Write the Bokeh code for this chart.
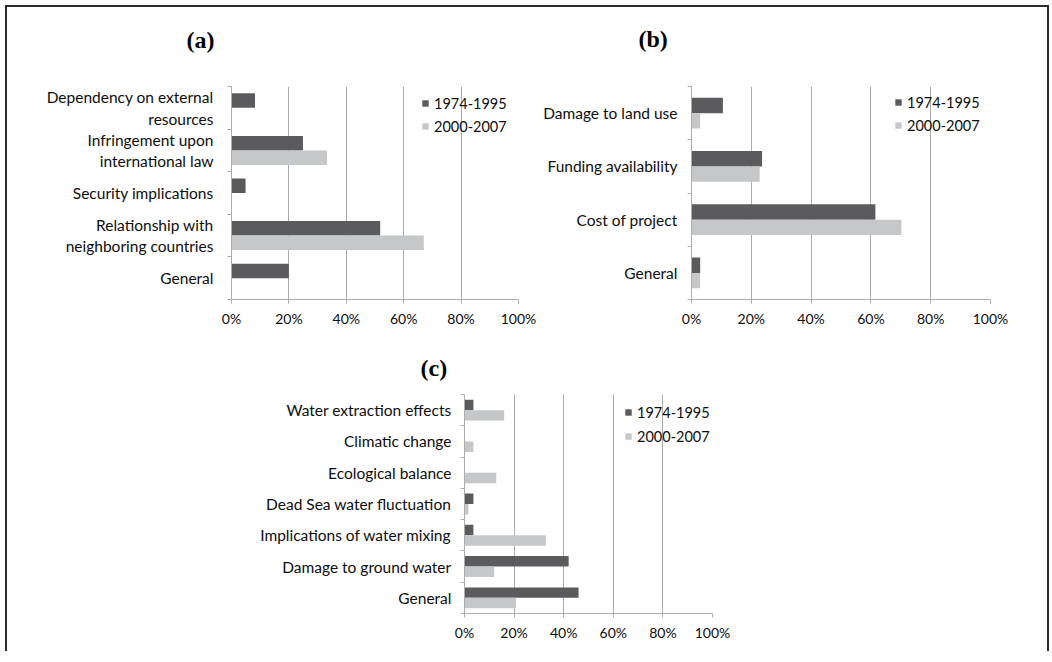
from bokeh.plotting import figure
from bokeh.models import (Range1d, FixedTicker, PrintfTickFormatter, Legend, LegendItem,
                          Spacer, ColumnDataSource, Title)
from bokeh.layouts import column, row
from bokeh.embed import file_html
from bokeh.resources import INLINE

# ---------------- data ----------------
series = ["1974-1995", "2000-2007"]

a_categories = ["Dependency on external\nresources", "Infringement upon\ninternational law",
                "Security implications", "Relationship with\nneighboring countries", "General"]
a_1974_1995 = [8.2, 24.9, 4.9, 51.8, 20.0]
a_2000_2007 = [0.0, 33.3, 0.0, 67.0, 0.0]

b_categories = ["Damage to land use", "Funding availability", "Cost of project", "General"]
b_1974_1995 = [10.5, 23.6, 61.5, 2.9]
b_2000_2007 = [2.9, 22.8, 70.2, 2.9]

c_categories = ["Water extraction effects", "Climatic change", "Ecological balance",
                "Dead Sea water fluctuation", "Implications of water mixing",
                "Damage to ground water", "General"]
c_1974_1995 = [3.6, 0.0, 0.0, 3.6, 3.6, 42.0, 46.0]
c_2000_2007 = [16.0, 3.6, 12.8, 1.6, 32.8, 12.0, 20.8]

x_ticks = [0, 20, 40, 60, 80, 100]

# ---------------- style ----------------
DARK = "#5b5b5d"
LIGHT = "#c6c7c9"
GRID = "#acacac"
FONT = "Lato"
TXT = "#0d0d0d"


def panel(title, cats, v1, v2, width, height, mb, bar_h, standoff, title_pos, leg_loc,
          leg_sp, spacer_gap=None):
    n = len(cats)
    centers = [n - i - 0.5 for i in range(n)]
    src = ColumnDataSource(dict(
        y1=[c + bar_h / 2 for c in centers],
        y2=[c - bar_h / 2 for c in centers],
        v1=v1, v2=v2))
    p = figure(width=width, height=height, x_range=Range1d(0, 100), y_range=Range1d(0, n),
               output_backend="svg", toolbar_location=None,
               min_border_left=mb[0], min_border_right=mb[1],
               min_border_top=mb[2], min_border_bottom=mb[3])
    p.outline_line_color = None
    p.background_fill_color = "white"
    p.border_fill_color = "white"

    p.title.text = title
    p.title.align = "left"
    p.title.offset = title_pos[0]
    p.title.standoff = title_pos[1]
    p.title.text_font = "Liberation Serif"
    p.title.text_font_style = "bold"
    p.title.text_font_size = "24px"
    p.title.text_color = "#000000"
    if spacer_gap is not None:
        # blank spacer row between the panel letter and the plot frame
        p.add_layout(Title(text=" ", text_font_size="1px", standoff=spacer_gap), "above")

    r1 = p.hbar(y="y1", left=0, right="v1", height=bar_h, source=src,
                fill_color=DARK, line_color=None)
    r2 = p.hbar(y="y2", left=0, right="v2", height=bar_h, source=src,
                fill_color=LIGHT, line_color=None)

    # x axis
    xa = p.xaxis[0]
    xa.ticker = FixedTicker(ticks=x_ticks)
    xa.formatter = PrintfTickFormatter(format="%d%%")
    xa.axis_line_color = GRID
    xa.major_tick_line_color = GRID
    xa.major_tick_out = 4
    xa.major_tick_in = 0
    xa.minor_tick_line_color = None
    xa.major_label_text_font = FONT
    xa.major_label_text_font_size = "14px"
    xa.major_label_text_color = TXT
    xa.major_label_standoff = 6

    # y axis (category boundaries as minor ticks)
    ya = p.yaxis[0]
    ya.ticker = FixedTicker(ticks=centers, minor_ticks=list(range(n + 1)))
    ya.major_label_overrides = {c: lab for c, lab in zip(centers, cats)}
    ya.axis_line_color = GRID
    ya.major_tick_line_color = None
    ya.major_tick_out = 0
    ya.major_tick_in = 0
    ya.minor_tick_line_color = GRID
    ya.minor_tick_out = 4
    ya.minor_tick_in = 0
    ya.major_label_text_font = FONT
    ya.major_label_text_font_size = "15.5px"
    ya.major_label_text_color = TXT
    ya.major_label_standoff = standoff
    ya.major_label_text_align = "center"

    p.ygrid.visible = False
    p.xgrid.ticker = FixedTicker(ticks=x_ticks)
    p.xgrid.grid_line_color = GRID
    p.xgrid.grid_line_width = 1

    leg = Legend(items=[LegendItem(label=series[0], renderers=[r1]),
                        LegendItem(label=series[1], renderers=[r2])],
                 location=leg_loc, orientation="vertical", padding=0, margin=0,
                 spacing=leg_sp, glyph_width=8, glyph_height=8, label_height=20,
                 label_standoff=5, label_text_font=FONT, label_text_font_size="14.5px",
                 label_text_color=TXT, background_fill_alpha=0, border_line_alpha=0)
    p.add_layout(leg)
    return p


pa = panel("(a)", a_categories, a_1974_1995, a_2000_2007, 533, 331,
           (224, 22, 79, 39), 0.34, 14, (-45, 10), (190, 163), 3, spacer_gap=26)
pb = panel("(b)", b_categories, b_1974_1995, b_2000_2007, 507, 331,
           (150, 57, 79, 39), 0.29, 10, (-53, 10), (203, 164), 3, spacer_gap=27)
pc = panel("(c)", c_categories, c_1974_1995, c_2000_2007, 560, 313,
           (205, 105, 56, 38), 0.335, 9, (-44, 28), (160, 167), 4)

inner = column(row(pa, pb), row(Spacer(width=250, height=313), pc),
               styles={"border-top": "2px solid #2b2b2b",
                       "border-left": "2px solid #2b2b2b",
                       "border-right": "2px solid #2b2b2b"})
layout = column(Spacer(width=10, height=5), row(Spacer(width=5, height=10), inner))

open("out.html", "w").write(file_html(layout, INLINE))
